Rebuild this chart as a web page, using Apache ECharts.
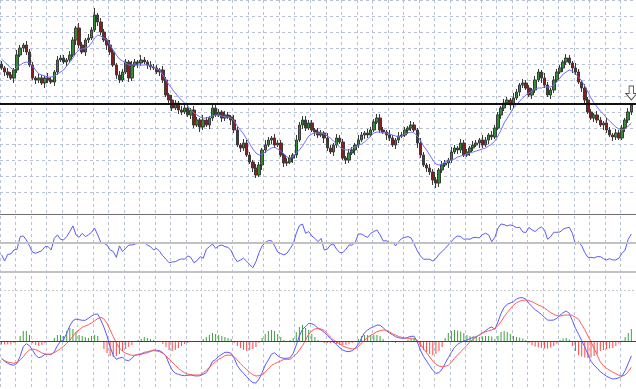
<!DOCTYPE html>
<html><head><meta charset="utf-8">
<script src="https://cdn.jsdelivr.net/npm/echarts@6/dist/echarts.min.js"></script>
<style>html,body{margin:0;padding:0;background:#fff}#c{width:636px;height:389px}</style>
</head><body><div id="c"></div>
<script>
// bar numbers (205 slots, last one empty)
const categories = Array.from({length: 205}, (_, i) => String(i + 1));

const openP = [128,124,120,117,114,122,137,144,147,140,127,114,112,114,109,114,112,110,120,132,134,130,132,137,152,164,147,140,152,154,162,177,170,160,152,147,140,127,117,112,120,130,114,127,130,129,132,130,127,125,124,120,122,112,97,92,84,89,82,80,84,77,82,67,72,65,72,67,74,84,77,80,74,77,75,72,62,47,44,49,37,30,24,17,27,42,47,52,54,47,49,37,29,30,34,37,52,67,72,64,69,62,60,57,59,54,44,40,47,54,50,34,32,39,42,47,52,57,59,57,62,70,74,62,60,57,54,47,52,56,57,62,64,67,62,49,37,27,24,20,12,9,22,27,29,32,40,44,42,49,37,40,44,47,49,52,47,52,57,55,64,77,84,89,92,87,94,100,107,109,104,97,102,112,120,114,107,97,102,112,120,124,130,134,129,124,120,110,104,92,80,74,77,72,67,69,62,57,55,59,54,64,72,80];
const closeP = [124,120,117,114,122,137,144,147,140,127,114,112,114,109,114,112,110,120,132,134,130,132,137,152,164,147,140,152,154,162,177,170,160,152,147,140,127,117,112,120,130,114,127,130,129,132,130,127,125,124,120,122,112,97,92,84,89,82,80,84,77,82,67,72,65,72,67,74,84,77,80,74,77,75,72,62,47,44,49,37,30,24,17,27,42,47,52,54,47,49,37,29,30,34,37,52,67,72,64,69,62,60,57,59,54,44,40,47,54,50,34,32,39,42,47,52,57,59,57,62,70,74,62,60,57,54,47,52,56,57,62,64,67,62,49,37,27,24,20,12,9,22,27,29,32,40,44,42,49,37,40,44,47,49,52,47,52,57,55,64,77,84,89,92,87,94,100,107,109,104,97,102,112,120,114,107,97,102,112,120,124,130,134,129,124,120,110,104,92,80,74,77,72,67,69,62,57,55,59,54,64,72,80,87];
const highP = [131,126,124,120,124,142,147,149,151,143,130,116,118,117,116,119,115,122,136,137,137,134,141,155,166,169,150,154,158,165,184,179,174,163,154,152,143,129,121,123,133,132,131,133,132,137,135,132,131,128,127,124,126,115,99,97,92,91,86,87,87,84,86,75,74,77,75,76,88,87,83,82,81,80,77,77,65,49,53,52,40,32,28,30,44,52,55,56,58,52,52,39,34,37,39,57,70,76,76,72,72,64,64,62,61,59,47,49,58,57,53,36,43,45,49,57,60,61,63,65,73,78,78,65,62,62,57,54,60,60,65,66,71,70,64,54,40,29,28,23,15,24,31,32,34,45,47,46,53,52,43,46,51,52,54,57,55,59,61,67,80,86,93,95,94,99,103,109,113,112,107,104,116,123,122,119,110,104,116,123,127,132,138,137,131,129,123,112,108,95,83,79,81,75,71,74,65,59,63,62,67,74,84,89];
const lowP = [122,116,114,112,109,119,135,140,137,125,112,108,109,107,104,109,108,106,117,130,128,126,129,135,147,144,138,136,149,152,160,166,157,150,142,137,125,113,109,110,118,110,111,125,124,126,128,123,122,122,118,116,109,95,87,81,82,78,77,78,75,73,64,65,60,62,65,63,71,75,75,70,71,73,67,59,45,40,41,35,28,20,14,15,22,39,45,48,44,45,35,25,26,28,29,34,50,63,61,62,60,56,54,55,49,41,38,36,44,48,32,28,29,37,37,44,50,53,54,55,60,68,59,58,52,51,45,43,49,54,55,58,61,60,44,34,25,20,17,7,4,5,19,25,24,29,38,38,39,35,35,36,41,45,44,44,45,48,52,53,62,73,81,87,82,84,92,96,104,102,95,93,99,110,109,104,95,93,99,110,118,120,127,127,119,117,108,100,89,78,72,70,69,65,62,59,55,51,52,52,52,60,69,77];
const maLine = [133,130,127,124,122,125,127,129,130,129,126,122,118,117,116,115,115,116,118,120,122,126,130,134,139,142,143,144,145,149,154,157,156,154,152,147,142,137,133,131,129,127,127,127,127,127,127,127,126,125,123,122,117,112,107,103,99,95,92,89,86,82,79,77,75,74,74,75,76,77,77,76,75,75,74,71,66,62,58,53,48,43,39,37,38,40,42,44,45,43,41,38,35,34,36,39,42,46,51,56,58,59,59,59,58,56,54,51,48,45,43,42,42,44,45,47,48,50,53,56,59,60,60,59,59,58,57,56,55,56,58,59,60,59,56,52,46,42,37,32,28,27,28,30,31,32,33,35,36,37,38,39,40,41,42,43,44,46,48,51,56,62,69,74,79,84,87,91,94,97,99,101,103,104,104,105,105,105,107,110,114,118,120,122,121,118,115,111,106,100,94,89,85,81,78,74,71,68,65,63,62,63,66,69];
const levelLine = 88;

const rsiLine = [41.8,37.6,42.2,42.4,45.2,45.7,54.4,54.9,52.1,48.0,43.6,42.9,43.8,44.7,47.5,47.5,45.2,53.2,55.6,52.6,52.1,54.4,57.9,61.8,55.6,53.9,56.7,54.4,55.6,57.4,60.2,55.6,50.5,49.8,48.6,45.2,44.1,40.1,48.0,44.1,46.3,48.6,48.6,49.3,49.8,50.3,50.5,48.6,47.5,45.2,46.3,44.1,41.1,38.8,36.4,36.9,37.1,38.3,39.0,38.8,41.1,40.1,36.4,37.8,40.6,39.5,45.7,47.5,49.3,46.3,48.0,48.6,47.5,47.0,44.7,40.1,37.1,38.3,39.5,37.4,35.1,33.0,37.1,43.4,48.0,50.3,51.6,51.6,48.0,43.8,42.7,41.8,42.9,46.1,49.3,56.7,62.0,63.1,56.7,57.9,54.9,53.2,50.9,53.2,45.2,45.7,48.6,49.3,45.7,43.4,43.4,45.7,48.6,48.6,50.3,56.2,56.2,54.9,53.9,56.7,57.9,59.0,55.6,51.4,51.6,50.3,50.5,48.0,50.9,53.2,53.9,54.4,53.5,49.3,44.7,41.1,38.8,38.8,38.8,37.6,39.2,42.2,44.1,46.3,48.6,50.9,53.5,54.9,54.4,52.6,52.8,52.6,53.7,53.9,53.5,55.8,56.7,55.6,50.9,53.9,60.2,63.1,62.7,61.8,62.5,61.8,60.6,60.8,57.6,57.2,60.8,59.0,57.9,59.9,61.1,59.0,52.6,54.4,57.4,57.4,57.6,59.5,60.4,60.8,56.7,49.1,50.9,48.0,43.4,40.1,40.1,39.7,40.6,40.6,39.2,38.3,39.2,38.3,38.3,39.5,42.9,45.2,52.6,56.2];
const rsiLevels = [70, 50, 30];

const macdLine = [-17.3,-20.3,-22.3,-23.7,-24.3,-22,-15.3,-5.7,-2.7,-4.7,-9.3,-14.3,-16.7,-15.7,-13.3,-13.3,-13.7,-10.7,-4.7,-0.3,1.3,7.7,15.3,20.3,22,21.3,20.7,20.7,22.7,25,26.7,27,21,13.7,5,-5.7,-14.3,-18.3,-17,-16.3,-19,-19.7,-17.3,-14.3,-13.7,-13.3,-12.3,-11.7,-10.3,-9,-9.3,-9.7,-11.7,-15,-23,-29,-32.3,-33.3,-34.3,-34.7,-34.3,-34,-34.7,-35,-34.7,-33.3,-31.7,-26.7,-20.3,-18.7,-15.3,-13.3,-11.3,-11.3,-12.3,-17.3,-24.7,-29,-32.3,-35.7,-39,-41.7,-42,-38,-31.7,-24,-19,-13.3,-11.7,-14.7,-16.7,-17.3,-17.3,-16.7,-12.3,-4,5,11.7,14.3,17.7,17.3,15.7,12.7,11,8.7,5.7,2.3,-0.7,-3.7,-6.7,-9,-10.3,-10.7,-9.7,-7.3,-3.3,2.7,8.3,11,13,14.3,16,15.7,13.3,10.3,8.3,6.3,4.3,3.3,2.7,2.7,3.7,4.7,4.7,-0.7,-9,-15.3,-20,-24.7,-29.3,-32.3,-31.7,-28,-22.3,-16.7,-11.3,-6.3,-3.3,-1.3,0,1,2.3,3.7,4.3,6,8,10.3,12.7,14,11.7,19,27.7,33.7,36.7,38,39.3,42,43.3,43.3,41.7,37.7,34.3,31.3,29,26.7,23.7,21,20.7,21,22.7,25.7,28.3,30,27.7,20.3,12.7,6.7,0.3,-6,-13.3,-20.3,-24.3,-27.3,-30.7,-33,-35.3,-36.7,-38,-37.7,-36.7,-35,-29.7,-22.3,-15];
const signalLine = [-18,-19.7,-21,-21.7,-22.3,-21.3,-19,-15.7,-11.7,-9,-8,-8.7,-10,-12,-13,-13.3,-13,-11.7,-9.7,-7.7,-5.3,-2.3,0.7,5,8.7,11,13.7,15,16.3,18,20.3,22.3,23.7,22,17.7,11,4.3,-1.7,-7,-10.3,-12.3,-13.3,-14.3,-14.3,-13.3,-12.7,-11.3,-10.7,-10,-9.7,-10,-10.7,-12.3,-15,-18,-21,-24.3,-27.3,-29.7,-31.7,-33,-33.7,-34,-34,-34,-31.7,-29.3,-26.3,-23.3,-20.7,-18.3,-16.7,-14.7,-14,-14.3,-15.7,-19,-22.7,-25.7,-28.7,-31.3,-33.7,-35,-34.7,-33.7,-31,-28,-24.7,-22.7,-21.3,-20,-18.3,-18.3,-18.3,-15.7,-13,-9,-4.7,1,6.7,10.3,12,12.7,12,10.7,7.3,4,1,-1,-3,-5,-6.3,-7.3,-8,-7.7,-5.7,-2,0.7,3.7,5.7,7.3,9.3,10.3,11,10.7,9.3,7.3,6,4.3,3.7,3,2.7,2.7,1.7,0.7,-3,-7.7,-11.7,-16,-20,-23.3,-25,-25.7,-25.3,-24.3,-21.3,-17.3,-14,-10.7,-7.7,-4.3,-0.7,1.7,4,6,7.7,9.3,10.3,11,12.7,15.3,19.3,24.3,28.3,32.3,35.7,38.3,39.7,40.7,41,40.3,39.3,37.7,36,34.7,33,30.7,28.3,26.7,25.3,25,25.7,26,26,25.7,23.7,21.7,16.3,11.3,5,-0.7,-7.7,-14,-21,-24.7,-27.3,-29.3,-31,-32.7,-34.3,-35,-34,-30.7,-26.3];
const histBars = [-3.5,-3.5,-3.5,-3.5,-2,0,5,10,10,6,-2,-4,-5,-4,-2,0,-0.5,3,6,6,5,10,13,12,9,6,5,4,3,5,6,5,-1,-8,-12,-15,-16,-15,-13,-10,-8,-6,-4,-1,1,2,4,3,2,1,0,-1,-3,-6,-9,-10,-9,-7,-5,-3,-2,-1,-1,-1,0,2,4,6,8,7,6,5,4,3,2,-2,-5,-7,-9,-10,-9,-8,-6,-2,3,7,10,11,10,7,4,1,0,1,3,9,14,16,13,11,7,4,1,-1,-2,-2,-2,-2,-3,-4,-4,-4,-3,-2,0,2,5,6,6,6,6,6,5,2,-0.5,-1,-1,-2,-1,-1,-0.5,1,2,3,-1.5,-6,-9,-11,-13,-14,-13,-10,-6,3,8,10,11,10.5,9.5,8,6,5,4.5,4,4,4.5,5,5,4.5,2,5,9,10,9,7,5,4,3.5,2.5,1,-2,-4,-5.5,-6.5,-7,-7.5,-7.5,-6.5,-5,-2.5,1,2.5,3,1.5,-5,-10,-14,-15.5,-16.5,-17,-16.5,-15,-13,-10,-9,-8,-7.5,-7,-5,-2.5,0.5,4,8,12];
const macdTop = 51;

const candleData = openP.map((o, i) => [o, closeP[i], lowP[i], highP[i]]);
const histData = histBars.map(v => ({ value: v, itemStyle: { color: v >= 0 ? '#3f9f3f' : '#ff4646' } }));

const gridCol = '#b9c2d3';
const xBase = (gi, split) => ({
  type: 'category', gridIndex: gi, data: categories, boundaryGap: true,
  axisLine: {show: false}, axisTick: {show: false}, axisLabel: {show: false},
  splitLine: {show: split, interval: 4, lineStyle: {color: gridCol, type: [3, 3], width: 1}}
});
const hiddenY = (gi, min, max) => ({
  type: 'value', gridIndex: gi, min, max, axisLine: {show: false}, axisTick: {show: false},
  axisLabel: {show: false}, splitLine: {show: false}
});

const chart = echarts.init(document.getElementById('c'), null, {renderer: 'canvas'});
chart.setOption({
  animation: false,
  backgroundColor: '#ffffff',
  grid: [
    {left: 0, right: 0, top: 0, height: 389},
    {left: 0, right: 0, top: 0, height: 192},
    {left: 0, right: 0, top: 214, height: 58},
    {left: 0, right: 0, top: 290, height: 99}
  ],
  xAxis: [xBase(0, true), xBase(1, false), xBase(2, false), xBase(3, false)],
  yAxis: [
    hiddenY(0, 0, 1),
    {type: 'value', gridIndex: 1, min: 0, max: 192, interval: 16,
     axisLine: {show: false}, axisTick: {show: false}, axisLabel: {show: false},
     splitLine: {show: true, lineStyle: {color: gridCol, type: [3, 3], width: 1}}},
    hiddenY(2, 30, 70),
    hiddenY(3, -48, 51)
  ],
  series: [
    {
      type: 'candlestick', xAxisIndex: 1, yAxisIndex: 1, data: candleData,
      barWidth: 3, clip: false,
      itemStyle: {color: '#2f8f2f', color0: '#8c1d1d', borderColor: '#3a3a3a', borderColor0: '#3a3a3a', borderWidth: 1},
      markLine: {
        silent: true, symbol: 'none', label: {show: false},
        lineStyle: {color: '#111', width: 2, type: 'solid'},
        data: [{yAxis: levelLine}]
      },
      markPoint: {
        silent: true, label: {show: false},
        data: [{
          coord: [closeP.length - 1, highP[highP.length - 1]],
          symbol: 'path://M3,0 L7,0 L7,7 L10,7 L5,13 L0,7 L3,7 Z',
          symbolSize: [11, 14], symbolOffset: [0, -10],
          itemStyle: {color: '#ffffff', borderColor: '#555', borderWidth: 1}
        }]
      }
    },
    {
      type: 'line', xAxisIndex: 1, yAxisIndex: 1, data: maLine, symbol: 'none',
      lineStyle: {color: '#7070ff', width: 1}
    },
    {
      type: 'line', xAxisIndex: 2, yAxisIndex: 2, data: rsiLine, symbol: 'none', clip: false,
      lineStyle: {color: '#5a5aff', width: 1},
      markLine: {
        silent: true, symbol: 'none', label: {show: false},
        data: [
          {yAxis: rsiLevels[0], lineStyle: {color: '#6e6e6e', width: 1, type: 'solid'}},
          {yAxis: rsiLevels[1], lineStyle: {color: '#c2c2c2', width: 2, type: 'solid'}},
          {yAxis: rsiLevels[2], lineStyle: {color: '#c2c2c2', width: 2, type: 'solid'}}
        ]
      }
    },
    {
      type: 'bar', xAxisIndex: 3, yAxisIndex: 3, data: histData, barWidth: 1,
      markLine: {
        silent: true, symbol: 'none', label: {show: false},
        data: [
          {yAxis: 0, lineStyle: {color: '#444', width: 1, type: 'solid'}},
          {yAxis: macdTop, lineStyle: {color: '#c8c8c8', width: 1, type: [2, 2]}}
        ]
      }
    },
    {
      type: 'line', xAxisIndex: 3, yAxisIndex: 3, data: macdLine, symbol: 'none', clip: false,
      lineStyle: {color: '#5a5aff', width: 1}
    },
    {
      type: 'line', xAxisIndex: 3, yAxisIndex: 3, data: signalLine, symbol: 'none', clip: false,
      lineStyle: {color: '#ff5a5a', width: 1}
    }
  ]
});
</script></body></html>
